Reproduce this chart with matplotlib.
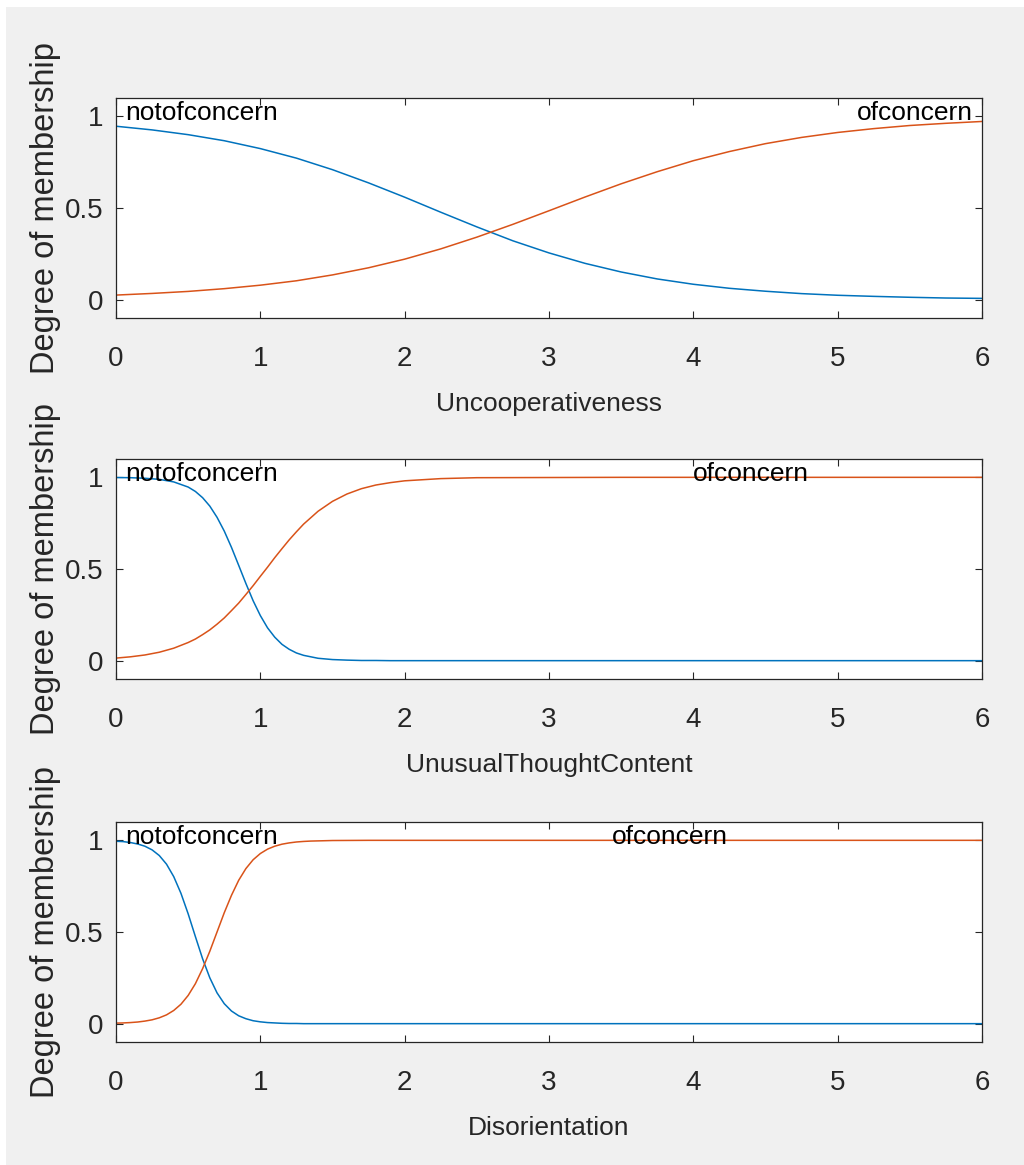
import numpy as np
import matplotlib
matplotlib.use("Agg")
import matplotlib.pyplot as plt
from matplotlib.patches import Rectangle

# values
x1 = [0, 0.25, 0.5, 0.75, 1.0, 1.25, 1.5, 1.75, 2.0, 2.25, 2.5, 2.75, 3.0,
      3.25, 3.5, 3.75, 4.0, 4.25, 4.5, 4.75, 5.0, 5.25, 5.5, 5.75, 6.0]
notof1 = [0.946, 0.926, 0.900, 0.867, 0.824, 0.772, 0.709, 0.637, 0.559, 0.477,
          0.397, 0.321, 0.255, 0.198, 0.151, 0.113, 0.084, 0.062, 0.046, 0.033,
          0.024, 0.018, 0.013, 0.009, 0.007]
of1 = [0.025, 0.034, 0.045, 0.060, 0.079, 0.103, 0.135, 0.174, 0.221, 0.277,
       0.341, 0.411, 0.485, 0.560, 0.632, 0.698, 0.758, 0.808, 0.851, 0.885,
       0.912, 0.933, 0.950, 0.962, 0.972]

x2 = [0, 0.1, 0.2, 0.3, 0.4, 0.5, 0.55, 0.6, 0.65, 0.7, 0.75, 0.8, 0.85, 0.9,
      0.95, 1.0, 1.05, 1.1, 1.15, 1.2, 1.25, 1.3, 1.4, 1.5, 1.6, 1.7, 1.8, 1.9,
      2.0, 2.25, 2.5, 3.0, 3.5, 4.0, 5.0, 6.0]
notof2 = [0.999, 0.998, 0.995, 0.989, 0.975, 0.947, 0.923, 0.889, 0.843, 0.782,
          0.707, 0.618, 0.520, 0.421, 0.327, 0.246, 0.179, 0.128, 0.089, 0.062,
          0.042, 0.029, 0.013, 0.006, 0.003, 0.001, 0.001, 0.0, 0.0, 0.0,
          0.0, 0.0, 0.0, 0.0, 0.0, 0.0]
of2 = [0.014, 0.021, 0.031, 0.046, 0.068, 0.099, 0.118, 0.142, 0.168, 0.199,
       0.233, 0.273, 0.314, 0.361, 0.409, 0.460, 0.510, 0.562, 0.611, 0.659,
       0.703, 0.745, 0.815, 0.869, 0.909, 0.938, 0.958, 0.971, 0.981, 0.993,
       0.998, 0.999, 1.0, 1.0, 1.0, 1.0]

x3 = [0, 0.05, 0.1, 0.15, 0.2, 0.25, 0.3, 0.35, 0.4, 0.45, 0.5, 0.55, 0.6,
      0.65, 0.7, 0.75, 0.8, 0.85, 0.9, 0.95, 1.0, 1.05, 1.1, 1.15, 1.2, 1.25,
      1.3, 1.35, 1.4, 1.45, 1.5, 1.75, 2.0, 3.0, 4.0, 5.0, 6.0]
notof3 = [0.995, 0.993, 0.988, 0.980, 0.968, 0.948, 0.917, 0.870, 0.802, 0.711,
          0.599, 0.475, 0.354, 0.250, 0.168, 0.109, 0.069, 0.043, 0.027, 0.016,
          0.010, 0.006, 0.004, 0.002, 0.001, 0.001, 0.0, 0.0, 0.0, 0.0, 0.0,
          0.0, 0.0, 0.0, 0.0, 0.0, 0.0]
of3 = [0.003, 0.004, 0.006, 0.009, 0.014, 0.021, 0.032, 0.048, 0.072, 0.106,
       0.154, 0.218, 0.300, 0.395, 0.500, 0.605, 0.700, 0.782, 0.846, 0.894,
       0.928, 0.952, 0.968, 0.979, 0.986, 0.991, 0.994, 0.996, 0.997, 0.998,
       0.999, 1.0, 1.0, 1.0, 1.0, 1.0, 1.0]

xlabels = ["Uncooperativeness", "UnusualThoughtContent", "Disorientation"]
# x position of the "ofconcern" label (center) in each panel
ofconcern_x = [5.54, 4.40, 3.84]

blue = "#0072BD"
orange = "#D95319"

plt.rcParams['font.family'] = ['Liberation Sans', 'DejaVu Sans']

fig = plt.figure(figsize=(10.24, 11.65), dpi=100, facecolor="#f0f0f0")
# white strip at top and left like the screenshot
fig.patches.append(Rectangle((0, 1 - 7 / 1165), 1, 7 / 1165, transform=fig.transFigure,
                             facecolor="white", edgecolor="none", zorder=-1))
fig.patches.append(Rectangle((0, 0), 6 / 1024, 1, transform=fig.transFigure,
                             facecolor="white", edgecolor="none", zorder=-1))

bottoms = [1 - 318 / 1165, 1 - 679 / 1165, 1 - 1042 / 1165]
data = [(x1, notof1, of1), (x2, notof2, of2), (x3, notof3, of3)]

for i in range(3):
    ax = fig.add_axes([116 / 1024, bottoms[i], 866 / 1024, 220 / 1165])
    xs, ys_not, ys_of = data[i]
    ax.plot(xs, ys_not, color=blue, linewidth=1.1)
    ax.plot(xs, ys_of, color=orange, linewidth=1.1)
    ax.set_xlim(0, 6)
    ax.set_ylim(-0.1, 1.1)
    ax.set_xticks([0, 1, 2, 3, 4, 5, 6])
    ax.set_yticks([0, 0.5, 1])
    ax.set_yticklabels(["0", "0.5", "1"])
    ax.tick_params(axis='both', direction='in', length=5, width=0.8,
                   top=True, right=True, labelsize=20, colors="#262626")
    ax.tick_params(axis='x', pad=20)
    ax.tick_params(axis='y', pad=9)
    for sp in ax.spines.values():
        sp.set_linewidth(0.9)
        sp.set_color("#262626")

    ax.text(0.5, -93 / 220, xlabels[i], transform=ax.transAxes, ha='center',
            va='baseline', fontsize=19, color="#262626")
    ax.text(-0.081, 0.5, "Degree of membership", transform=ax.transAxes,
            rotation=90, ha='center', va='center', fontsize=23.5, color="#262626")

    ax.text(0.062, 0.98, "notofconcern", ha='left', va='baseline', fontsize=19)
    if i == 0:
        ax.text(5.94, 0.98, "ofconcern", ha='right', va='baseline', fontsize=19)
    else:
        ax.text(ofconcern_x[i], 0.98, "ofconcern", ha='center', va='baseline',
                fontsize=19)

fig.savefig("out.png", dpi=100, facecolor=fig.get_facecolor())
